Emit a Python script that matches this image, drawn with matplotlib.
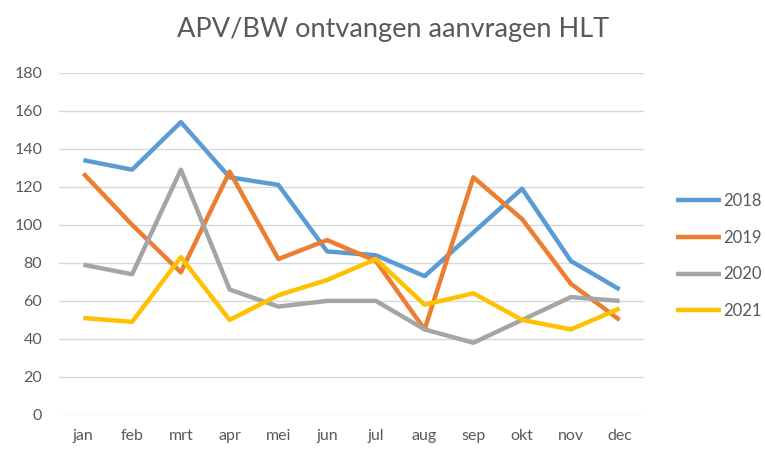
import matplotlib
matplotlib.use("Agg")
import matplotlib.pyplot as plt

months = ["jan", "feb", "mrt", "apr", "mei", "jun", "jul", "aug", "sep", "okt", "nov", "dec"]
s2018 = [134, 129, 154, 125, 121, 86, 84, 73, 96, 119, 81, 66]
s2019 = [127, 100, 75, 128, 82, 92, 81, 45, 125, 103, 69, 50]
s2020 = [79, 74, 129, 66, 57, 60, 60, 45, 38, 50, 62, 60]
s2021 = [51, 49, 83, 50, 63, 71, 82, 58, 64, 50, 45, 56]
series_names = ["2018", "2019", "2020", "2021"]
yticks = [0, 20, 40, 60, 80, 100, 120, 140, 160, 180]

colors = ["#5B9BD5", "#ED7D31", "#A5A5A5", "#FFC000"]
plt.rcParams['font.family'] = ['Lato', 'DejaVu Sans']

fig = plt.figure(figsize=(7.65, 4.49), dpi=100)
ax = fig.add_axes([59/765, 1-415/449, (644-59)/765, (415-72.7)/449])

x = list(range(len(months)))
lines = []
for vals, c, name in zip([s2018, s2019, s2020, s2021], colors, series_names):
    ln, = ax.plot(x, vals, color=c, lw=3.2, label=name, solid_joinstyle='round', solid_capstyle='butt')
    lines.append(ln)

ax.set_xlim(-0.5, len(months) - 0.5)
ax.set_ylim(0, 180)
ax.set_yticks(yticks)
ax.set_xticks(x)
ax.set_xticklabels(months)
ax.grid(axis='y', color='#D9D9D9', lw=1)
ax.set_axisbelow(True)
for s in ax.spines.values():
    s.set_visible(False)
ax.tick_params(axis='both', length=0, colors='#595959', labelsize=11.5)
ax.tick_params(axis='x', pad=10)
ax.tick_params(axis='y', pad=12)

fig.text(393/765, 1-30/449, "APV/BW ontvangen aanvragen HLT", ha='center', va='center',
         fontsize=19.5, color='#595959')

fig.legend(handles=lines, loc='center left', bbox_to_anchor=(676/765, 1-256/449),
           frameon=False, fontsize=12, labelspacing=1.25, handlelength=2.7,
           handletextpad=0.15, borderpad=0, borderaxespad=0, labelcolor='#595959')

fig.savefig("out.png", dpi=100)
